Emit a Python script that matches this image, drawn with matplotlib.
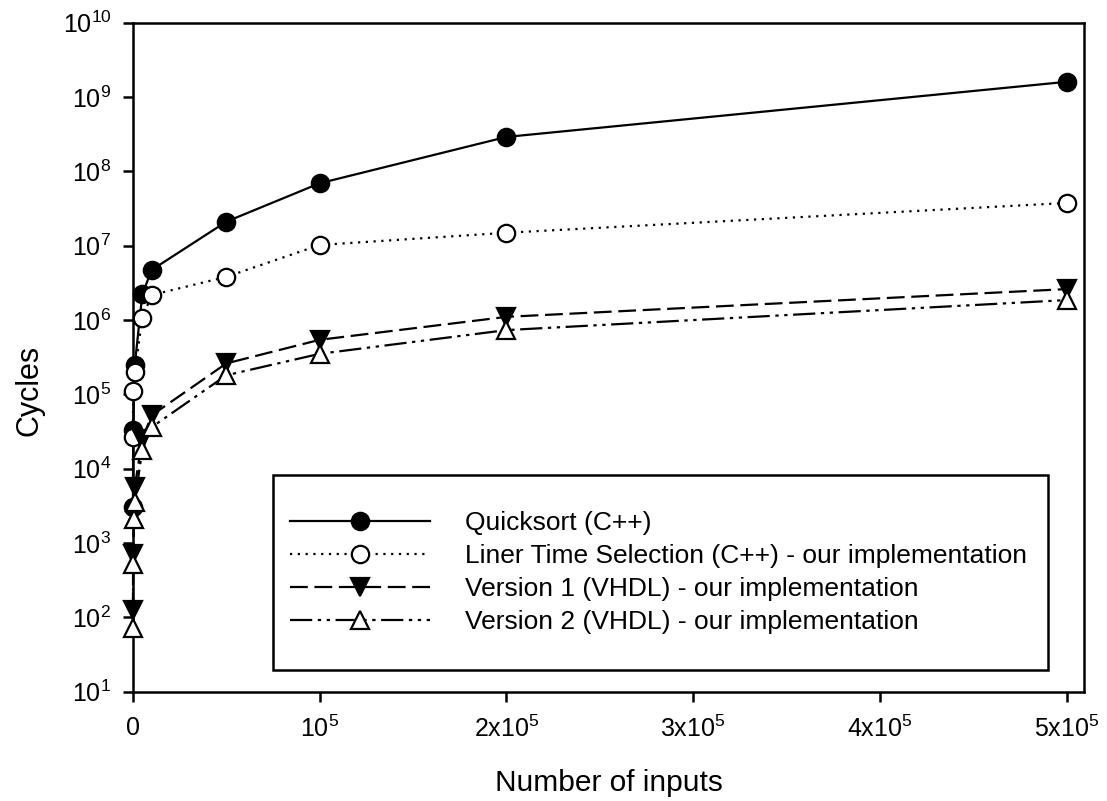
import math

import matplotlib
matplotlib.use("Agg")
import matplotlib.pyplot as plt
from matplotlib.patches import Rectangle
from matplotlib.ticker import FixedLocator, FuncFormatter

plt.rcParams["font.family"] = ["Liberation Sans", "DejaVu Sans"]
plt.rcParams["mathtext.default"] = "regular"

# data
qs_x = [10, 100, 1000, 5000, 10000, 50000, 100000, 200000, 500000]
qs_y = [3.0e3, 3.3e4, 2.5e5, 2.2e6, 4.7e6, 2.1e7, 6.9e7, 2.9e8, 1.6e9]

lts_x = [10, 100, 1000, 5000, 10000, 50000, 100000, 200000, 500000]
lts_y = [2.7e4, 1.1e5, 2.0e5, 1.06e6, 2.16e6, 3.8e6, 1.02e7, 1.49e7, 3.75e7]

v1_x = [10, 100, 1000, 5000, 10000, 50000, 100000, 200000, 500000]
v1_y = [125, 700, 5.7e3, 2.5e4, 5.2e4, 2.6e5, 5.4e5, 1.1e6, 2.6e6]

v2_x = [10, 100, 500, 1000, 5000, 10000, 50000, 100000, 200000, 500000]
v2_y = [71, 520, 2.1e3, 3.6e3, 1.8e4, 3.6e4, 1.8e5, 3.5e5, 7.3e5, 1.85e6]

labels = [
    "Quicksort (C++)",
    "Liner Time Selection (C++) - our implementation",
    "Version 1 (VHDL) - our implementation",
    "Version 2 (VHDL) - our implementation",
]

x_ticks = [0, 1e5, 2e5, 3e5, 4e5, 5e5]
x_tick_labels = ["0", "$10^5$", "2x$10^5$", "3x$10^5$", "4x$10^5$", "5x$10^5$"]

fig = plt.figure(figsize=(11.07, 8.01), dpi=100)
ax = fig.add_axes([0.1201, 0.1367, 0.8591, 0.835])

ms = 12.5
mew = 1.6
ax.plot(qs_x, qs_y, "-", color="k", lw=1.6, marker="o", ms=ms, mfc="k",
        mec="k", mew=mew, clip_on=False, label=labels[0], zorder=3)
ax.plot(lts_x, lts_y, color="k", lw=1.6, ls=(0, (1, 2.5)), marker="o", ms=ms,
        mfc="white", mec="k", mew=mew, clip_on=False, label=labels[1], zorder=3)
ax.plot(v1_x, v1_y, color="k", lw=1.6, ls=(0, (8, 3)), marker="v", ms=ms,
        mfc="k", mec="k", mew=mew, clip_on=False, label=labels[2], zorder=3)
ax.plot(v2_x, v2_y, color="k", lw=1.6, ls=(0, (10, 2.5, 1.5, 2.5, 1.5, 2.5)),
        marker="^", ms=ms, mfc="white", mec="k", mew=mew, clip_on=False,
        label=labels[3], zorder=3)

ax.set_yscale("log")
ax.set_ylim(10, 1e10)
ax.set_xlim(0, 5.093e5)

ax.yaxis.set_major_locator(FixedLocator([10.0 ** k for k in range(1, 11)]))
ax.yaxis.set_minor_locator(FixedLocator([]))
ax.yaxis.set_major_formatter(FuncFormatter(lambda v, p: "$10^{%d}$" % round(math.log10(v))))
ax.set_xticks(x_ticks)
ax.set_xticklabels(x_tick_labels)

for s in ax.spines.values():
    s.set_linewidth(1.8)
ax.tick_params(axis="both", direction="out", length=7.5, width=1.8,
               labelsize=18, pad=8)
ax.tick_params(axis="x", pad=10)

ax.set_ylabel("Cycles", fontsize=22)
ax.yaxis.set_label_coords(-0.093, 0.45)
ax.set_xlabel("Number of inputs", fontsize=21.5, labelpad=19)

# legend frame is drawn separately (uneven padding in the original)
frame = Rectangle((0.1472, 0.0315), 0.8148, 0.2926, transform=ax.transAxes,
                  fill=True, facecolor="white", edgecolor="k", lw=1.8, zorder=4)
ax.add_patch(frame)
leg = ax.legend(loc="upper left", bbox_to_anchor=(0.1525, 0.287),
                fontsize=19, handlelength=5.3, handletextpad=1.35,
                frameon=False, borderpad=0.45, labelspacing=0.34,
                borderaxespad=0)
leg.set_zorder(5)

fig.savefig("out.png", dpi=100)
